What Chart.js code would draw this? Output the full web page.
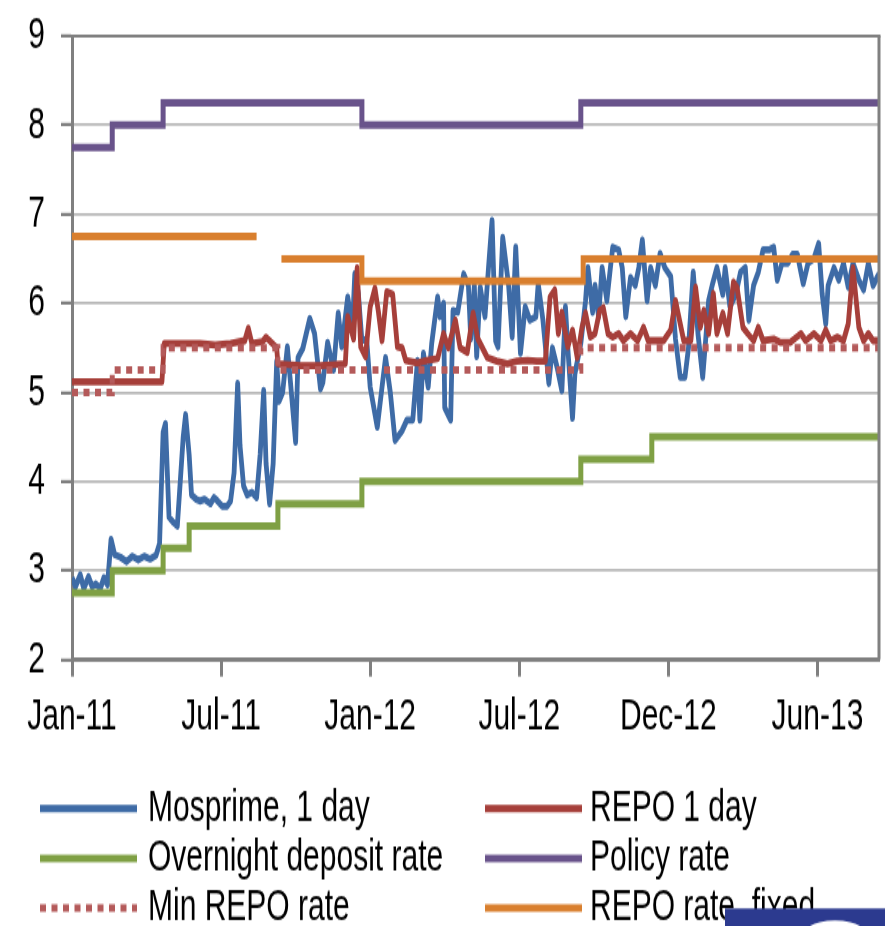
<!DOCTYPE html>
<html>
<head>
<meta charset="utf-8">
<script src="https://cdn.jsdelivr.net/npm/chart.js@4.4.1/dist/chart.umd.min.js"></script>
<style>
html,body{margin:0;padding:0;background:#fff;}
#outer{width:885px;height:926px;overflow:hidden;position:relative;background:#fff;}
#wrap{position:absolute;left:0;top:0;width:885px;height:617px;transform:scaleY(1.5008);transform-origin:0 0;}
canvas{display:block;}
</style>
</head>
<body>
<div id="outer"><div id="wrap"><canvas id="c" width="885" height="617" style="width:885px;height:617px"></canvas></div></div>
<script>
// x values are trading-day indices counted from the start of Jan-2011
const tickDays   = [0, 126, 252, 378, 504, 630];
const tickLabels = ['Jan-11', 'Jul-11', 'Jan-12', 'Jul-12', 'Dec-12', 'Jun-13'];
const lastDay = 682;
const yTicks = [2, 3, 4, 5, 6, 7, 8, 9];

// Mosprime, 1 day  [day, rate]
const mosprime1d = [
 [0,2.92],[3,2.82],[7,2.95],[10,2.80],[14,2.93],[17,2.82],[20,2.85],[24,2.80],[27,2.92],[30,2.84],
 [33,3.35],[36,3.18],[41,3.15],[46,3.10],[51,3.16],[56,3.12],[61,3.16],[66,3.13],[71,3.17],[74,3.30],
 [77,4.55],[79,4.65],[82,3.60],[85,3.55],[89,3.50],[91,3.90],[94,4.50],[96,4.75],[99,4.30],[101,3.85],
 [105,3.80],[108,3.78],[112,3.80],[117,3.75],[120,3.82],[123,3.78],[127,3.72],[131,3.72],[134,3.78],[137,4.10],
 [140,5.10],[142,4.40],[145,3.95],[148,3.85],[152,3.88],[156,3.82],[159,4.30],[162,5.02],[164,4.20],[167,3.75],
 [170,4.20],[173,5.35],[175,4.90],[178,5.00],[182,5.51],[184,5.21],[189,4.44],[191,5.39],[195,5.49],[201,5.83],
 [205,5.66],[210,5.04],[212,5.11],[216,5.56],[221,5.25],[225,5.89],[228,5.51],[233,6.07],[237,5.73],[239,6.33],
 [242,6.11],[245,5.58],[249,5.60],[252,5.06],[258,4.61],[262,5.06],[265,5.39],[269,5.00],[273,4.46],[279,4.57],
 [283,4.69],[288,4.69],[292,5.36],[294,4.69],[297,5.44],[301,5.06],[304,5.55],[309,6.07],[311,5.85],[314,6.00],
 [315,4.83],[320,4.69],[322,5.92],[326,5.90],[331,6.33],[335,6.20],[337,5.60],[340,6.20],[342,5.40],[345,6.18],
 [349,5.85],[352,6.40],[355,6.93],[358,5.58],[360,5.51],[364,6.74],[369,6.20],[372,5.62],[375,6.63],[379,5.44],
 [383,5.96],[387,5.81],[392,5.85],[394,6.22],[398,5.81],[403,5.10],[406,5.50],[410,5.28],[414,5.02],[417,5.96],
 [419,5.50],[423,4.71],[425,5.21],[430,5.55],[434,6.03],[436,6.40],[440,5.90],[442,6.20],[445,5.85],[448,6.40],
 [452,6.03],[455,6.40],[457,6.63],[462,6.60],[465,6.40],[468,5.85],[472,6.29],[476,6.20],[479,6.40],[482,6.71],
 [486,6.03],[489,6.40],[493,6.20],[497,6.56],[501,6.40],[506,6.30],[510,5.60],[514,5.17],[518,5.17],[521,5.50],
 [525,6.35],[529,5.66],[533,5.17],[535,5.50],[538,6.03],[541,6.20],[545,6.40],[550,6.10],[552,6.40],[556,5.96],
 [561,6.10],[565,6.35],[569,6.40],[572,5.81],[576,6.20],[580,6.35],[584,6.60],[589,6.60],[593,6.63],[596,6.26],
 [600,6.45],[605,6.45],[609,6.55],[613,6.55],[616,6.35],[618,6.22],[622,6.45],[627,6.50],[631,6.67],[634,6.10],
 [637,5.77],[639,6.20],[644,6.40],[648,6.26],[652,6.45],[656,6.18],[660,6.45],[665,6.26],[669,6.15],[673,6.45],
 [677,6.20],[682,6.33]
];

// REPO 1 day  [day, rate]
const repo1d = [
 [0,5.12],[76,5.12],[78,5.55],[108,5.55],[121,5.53],[134,5.55],[146,5.58],[149,5.72],[152,5.55],[161,5.57],
 [164,5.62],[167,5.58],[173,5.50],[174,5.32],[193,5.30],[210,5.30],[231,5.32],[233,5.85],[238,5.60],[241,6.40],
 [244,5.51],[248,5.40],[252,5.96],[256,6.17],[259,5.90],[262,5.58],[266,6.13],[271,6.10],[275,5.51],[279,5.50],
 [282,5.36],[292,5.33],[300,5.36],[309,5.38],[314,5.66],[318,5.50],[324,5.81],[328,5.50],[334,5.45],[339,5.89],
 [343,5.60],[351,5.39],[359,5.35],[368,5.32],[376,5.35],[385,5.36],[393,5.35],[400,5.35],[404,6.07],[408,6.15],
 [411,5.66],[414,5.90],[419,5.51],[423,5.70],[427,5.39],[431,5.73],[434,5.89],[438,5.62],[442,5.66],[446,5.92],
 [449,5.95],[453,5.66],[457,5.62],[462,5.66],[466,5.58],[472,5.66],[478,5.58],[483,5.73],[487,5.58],[495,5.58],
 [500,5.58],[506,5.70],[510,6.03],[512,5.90],[517,5.58],[523,5.58],[527,6.18],[531,5.73],[534,5.92],[538,5.66],
 [542,6.11],[545,5.66],[550,5.89],[554,5.66],[559,6.24],[562,6.18],[567,5.73],[571,5.66],[576,5.58],[580,5.73],
 [584,5.58],[593,5.60],[599,5.56],[607,5.56],[616,5.66],[620,5.58],[627,5.66],[633,5.58],[637,5.70],[641,5.58],
 [647,5.62],[652,5.58],[656,5.77],[660,6.40],[665,5.73],[669,5.58],[673,5.66],[677,5.58],[682,5.58]
];

// Step series: [day the rate takes effect, rate]; last pair closes the line
const overnightDeposit = [[0,2.75],[34,3.00],[77,3.25],[99,3.50],[174,3.75],[245,4.00],[430,4.25],[490,4.50],[682,4.50]];
const policyRate       = [[0,7.75],[34,8.00],[77,8.25],[245,8.00],[430,8.25],[682,8.25]];
const minRepoRate      = [[0,5.00],[34,5.25],[77,5.50],[174,5.25],[430,5.50],[682,5.50]];
const repoFixed        = [[0,6.75],[156,6.75],[166,null],[177,6.50],[245,6.25],[432,6.50],[682,6.50]];

const toXY = arr => arr.map(p => ({x: p[0], y: p[1]}));
const FONT = '"Liberation Sans", Arial, sans-serif';
Chart.defaults.font.family = FONT;

const legendPlugin = {
  id: 'customLegend',
  afterDraw(chart) {
    const ctx = chart.ctx;
    const colLineX = [40, 485], colTextX = [148, 590], rowY = [538.7, 572.0, 605.0];
    const slots = [[0,0],[1,0],[0,1],[1,1],[0,2],[1,2]];
    ctx.save();
    chart.data.datasets.forEach((ds, i) => {
      const [c, r] = slots[i];
      const y = rowY[r];
      ctx.beginPath();
      ctx.lineWidth = 5;
      ctx.lineCap = 'butt';
      ctx.strokeStyle = ds.borderColor;
      ctx.setLineDash(ds.borderDash || []);
      ctx.moveTo(colLineX[c], y);
      ctx.lineTo(colLineX[c] + 97, y);
      ctx.stroke();
      ctx.setLineDash([]);
      ctx.fillStyle = '#000';
      ctx.font = '30px ' + FONT;
      ctx.textAlign = 'left';
      ctx.textBaseline = 'middle';
      ctx.fillText(ds.label, colTextX[c], y);
    });
    // decorative corner badge
    ctx.fillStyle = '#2c3a8f';
    ctx.fillRect(725, 605.3, 160, 12);
    ctx.fillStyle = '#ffffff';
    ctx.beginPath();
    ctx.ellipse(835, 630, 40, 16.7, 0, 0, Math.PI * 2);
    ctx.fill();
    ctx.restore();
  }
};

const framePlugin = {
  id: 'frame',
  afterDatasetsDraw(chart) {
    const {ctx, chartArea: a} = chart;
    ctx.save();
    ctx.strokeStyle = '#808080';
    ctx.lineWidth = 2.2;
    ctx.beginPath(); ctx.moveTo(a.left - 1.5, a.top); ctx.lineTo(a.right + 1.5, a.top); ctx.stroke();
    ctx.lineWidth = 3;
    ctx.beginPath(); ctx.moveTo(a.right, a.top); ctx.lineTo(a.right, a.bottom); ctx.stroke();
    ctx.restore();
  }
};

const common = {pointRadius: 0, pointHoverRadius: 0, tension: 0, fill: false, spanGaps: false, borderCapStyle: 'butt'};

new Chart(document.getElementById('c'), {
  type: 'line',
  data: {
    datasets: [
      Object.assign({label: 'Mosprime, 1 day', data: toXY(mosprime1d), borderColor: '#3e6ba6', borderWidth: 4.8, borderJoinStyle: 'round', order: 6}, common),
      Object.assign({label: 'REPO 1 day', data: toXY(repo1d), borderColor: '#a63f3a', borderWidth: 4.8, borderJoinStyle: 'round', order: 5}, common),
      Object.assign({label: 'Overnight deposit rate', data: toXY(overnightDeposit), borderColor: '#7fa044', borderWidth: 5, stepped: 'before', borderJoinStyle: 'miter', order: 4}, common),
      Object.assign({label: 'Policy rate', data: toXY(policyRate), borderColor: '#69538b', borderWidth: 5, stepped: 'before', borderJoinStyle: 'miter', order: 3}, common),
      Object.assign({label: 'Min REPO rate', data: toXY(minRepoRate), borderColor: '#b45a5a', borderWidth: 5, borderDash: [6, 5.5], stepped: 'before', borderJoinStyle: 'miter', order: 2}, common),
      Object.assign({label: 'REPO rate, fixed', data: toXY(repoFixed), borderColor: '#d97f2e', borderWidth: 5, stepped: 'before', borderJoinStyle: 'miter', order: 1}, common)
    ]
  },
  options: {
    responsive: false,
    animation: false,
    devicePixelRatio: 1,
    events: [],
    layout: {padding: {left: 0, right: 6, top: 24, bottom: 0}},
    plugins: {legend: {display: false}, tooltip: {enabled: false}, title: {display: false}},
    scales: {
      x: {
        type: 'linear',
        min: 0,
        max: lastDay,
        afterBuildTicks: axis => { axis.ticks = tickDays.map(v => ({value: v})); },
        afterFit: axis => { axis.height = 177.5; axis.paddingLeft = 0; axis.paddingRight = 0; },
        ticks: {
          autoSkip: false, maxRotation: 0, minRotation: 0,
          color: '#000', padding: 9,
          font: {size: 30, family: FONT},
          callback: (v, i) => tickLabels[i]
        },
        grid: {drawOnChartArea: false, drawTicks: true, tickLength: 11.3, tickWidth: 3, tickColor: '#808080', color: '#808080'},
        border: {display: true, color: '#808080', width: 3}
      },
      y: {
        type: 'linear',
        min: 2,
        max: 9,
        afterBuildTicks: axis => { axis.ticks = yTicks.map(v => ({value: v})); },
        afterFit: axis => { axis.width = 72; axis.paddingTop = 0; axis.paddingBottom = 0; },
        ticks: {color: '#000', padding: 16, font: {size: 30, family: FONT}, callback: v => String(v)},
        grid: {color: '#b9b9b9', lineWidth: 1.8, drawTicks: true, tickLength: 11, tickWidth: 2.2, tickColor: '#808080'},
        border: {display: true, color: '#808080', width: 3}
      }
    }
  },
  plugins: [framePlugin, legendPlugin]
});
</script>
</body>
</html>
